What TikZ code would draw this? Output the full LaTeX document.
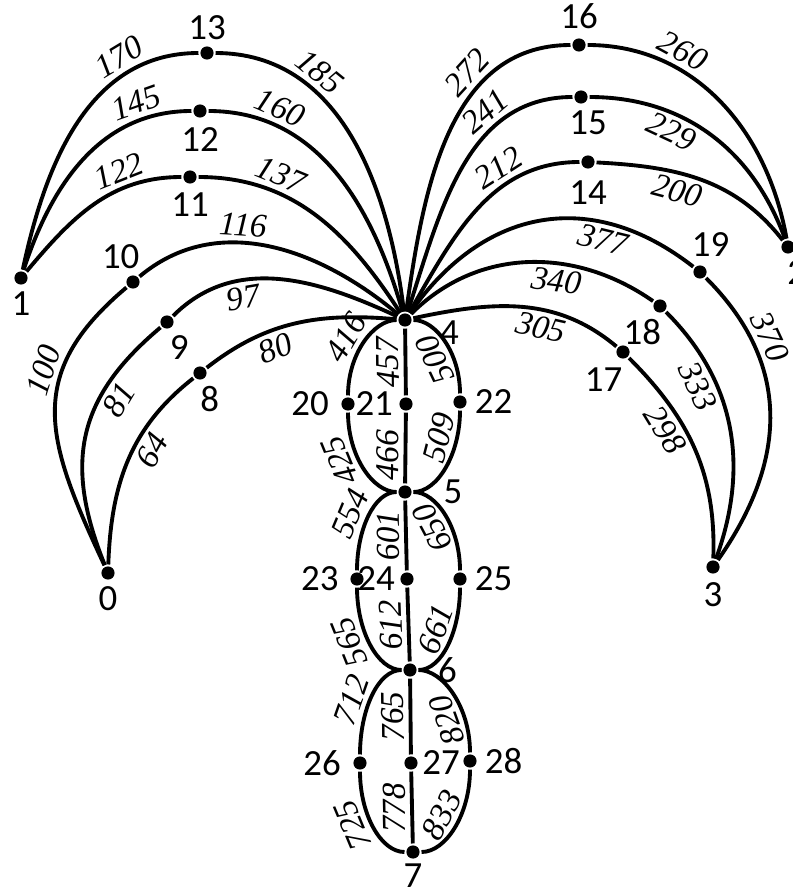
\documentclass[tikz,border=0pt]{standalone}
\usepackage{fontspec}
\setmainfont{Carlito}
\newfontfamily\wtfont{Liberation Serif}
\usetikzlibrary{positioning}

\begin{document}
\begin{tikzpicture}[x=0.02cm, y=0.02cm, line width=2.2pt,
    vertex/.style={circle, fill=black, inner sep=0pt, minimum size=7.5pt},
    num/.style={inner sep=0pt, font=\fontsize{21}{22}\selectfont},
    wt/.style={sloped, inner sep=2.5pt, font=\wtfont\itshape\fontsize{19}{19}\selectfont},
    wtu/.style={wt, allow upside down},
    tipside/.style={out looseness=.65, in looseness=1.2},
    sidetip/.style={out looseness=1.2, in looseness=.65}]
    \useasboundingbox (0,0) rectangle (793,-891);

    % Outer vertices
    \node[vertex] (v0) at (108,-573) {};
    \node[vertex] (v1) at (21,-278) {};
    \node[vertex] (v2) at (788,-247) {};
    \node[vertex] (v3) at (713,-567) {};
    % Spine
    \node[vertex] (v4) at (405,-320) {};
    \node[vertex] (v5) at (405,-492) {};
    \node[vertex] (v6) at (410,-670) {};
    \node[vertex] (v7) at (413,-852) {};
    % Arc vertices
    \node[vertex] (v8) at (200,-373) {};
    \node[vertex] (v9) at (167,-322) {};
    \node[vertex] (v10) at (133,-282) {};
    \node[vertex] (v11) at (190,-177) {};
    \node[vertex] (v12) at (200,-111) {};
    \node[vertex] (v13) at (207,-53) {};
    \node[vertex] (v14) at (588,-162) {};
    \node[vertex] (v15) at (581,-97) {};
    \node[vertex] (v16) at (579,-45) {};
    \node[vertex] (v17) at (623,-352) {};
    \node[vertex] (v18) at (660,-306) {};
    \node[vertex] (v19) at (700,-272) {};
    % Ellipse vertices
    \node[vertex] (v20) at (348,-404) {};
    \node[vertex] (v21) at (406,-404) {};
    \node[vertex] (v22) at (460,-402) {};
    \node[vertex] (v23) at (357,-579) {};
    \node[vertex] (v24) at (407,-579) {};
    \node[vertex] (v25) at (460,-579) {};
    \node[vertex] (v26) at (360,-763) {};
    \node[vertex] (v27) at (411,-763) {};
    \node[vertex] (v28) at (470,-761) {};

    % Vertex numbers
    \node[num, below=1.5pt of v0] (n0) {0};
    \node[num, below=2pt of v1] (n1) {1};
    \node[num, below=2pt of v2, xshift=5pt] (n2) {2};
    \node[num, below=3pt of v3] (n3) {3};
    \node[num, right=14pt of v4, yshift=-7pt] (n4) {4};
    \node[num, right=16pt of v5] (n5) {5};
    \node[num, right=10pt of v6] (n6) {6};
    \node[num, below=0.5pt of v7] (n7) {7};
    \node[num, below=1.5pt of v8, xshift=5.5pt] (n8) {8};
    \node[num, below=1.5pt of v9, xshift=7pt] (n9) {9};
    \node[num, above=1.5pt of v10, xshift=-7pt] (n10) {10};
    \node[num, below=3pt of v11] (n11) {11};
    \node[num, below=3.5pt of v12] (n12) {12};
    \node[num, above=1.5pt of v13] (n13) {13};
    \node[num, below=4.5pt of v14] (n14) {14};
    \node[num, below=2pt of v15, xshift=4pt] (n15) {15};
    \node[num, above=3pt of v16] (n16) {16};
    \node[num, below=3pt of v17, xshift=-11pt] (n17) {17};
    \node[num, below=1.5pt of v18, xshift=-10pt] (n18) {18};
    \node[num, above=3pt of v19, xshift=6pt] (n19) {19};
    \node[num, left=5pt of v20] (n20) {20};
    \node[num, left=1.5pt of v21] (n21) {21};
    \node[num, right=2.5pt of v22] (n22) {22};
    \node[num, left=4.5pt of v23] (n23) {23};
    \node[num, left=1pt of v24] (n24) {24};
    \node[num, right=2.5pt of v25] (n25) {25};
    \node[num, left=5pt of v26] (n26) {26};
    \node[num, right=0.5pt of v27] (n27) {27};
    \node[num, right=2.5pt of v28] (n28) {28};

    % Arcs 1 -- 4
    \draw (v1) to[out=78, in=180] node[wt, pos=.75, above] {170} (v13);
    \draw (v13) to[out=0, in=97] node[wt, pos=.3, above] {185} (v4);
    \draw (v1) to[out=72, in=180] node[wt, pos=.8, above] {145} (v12);
    \draw (v12) to[out=0, in=106] node[wt, pos=.22, above] {160} (v4);
    \draw (v1) to[out=50, in=180] node[wt, pos=.7, above] {122} (v11);
    \draw (v11) to[out=0, in=123] node[wt, pos=.3, above] {137} (v4);

    % Arcs 0 -- 4
    \draw (v0) to[out=115, in=220, looseness=1.25] node[wt, pos=.65, above] {100} (v10);
    \draw (v10) to[out=40, in=140] node[wt, pos=.4, above] {116} (v4);
    \draw (v0) to[out=112, in=220, looseness=1.15] node[wt, pos=.7, below] {81} (v9);
    \draw (v9) to[out=45, in=155] node[wt, pos=.33, below] {97} (v4);
    \draw (v0) to[out=88, in=218] node[wt, pos=.6, below] {64} (v8);
    \draw (v8) to[out=38, in=175] node[wt, pos=.35, below] {80} (v4);

    % Arcs 4 -- 2
    \draw (v4) to[out=82, in=180] node[wt, pos=.68, above] {272} (v16);
    \draw (v16) to[out=0, in=100] node[wt, pos=.3, above] {260} (v2);
    \draw (v4) to[out=72, in=180] node[wt, pos=.7, above] {241} (v15);
    \draw (v15) to[out=0, in=110] node[wt, pos=.35, below] {229} (v2);
    \draw (v4) to[out=60, in=180] node[wt, pos=.68, above] {212} (v14);
    \draw (v14) to[out=-3, in=128] node[wt, pos=.4, below] {200} (v2);

    % Arcs 4 -- 3
    \draw (v4) to[out=55, in=142, looseness=1.15] node[wt, pos=.72, below] {377} (v19);
    \draw (v19) to[out=-45, in=55, looseness=1.1] node[wt, pos=.25, above] {370} (v3);
    \draw (v4) to[out=45, in=145] node[wt, pos=.62, below] {340} (v18);
    \draw (v18) to[out=-45, in=70] node[wt, pos=.3, below] {333} (v3);
    \draw (v4) to[out=12, in=140] node[wt, pos=.62, below] {305} (v17);
    \draw (v17) to[out=-45, in=88] node[wt, pos=.35, below] {298} (v3);

    % Ellipse 4 -- 5
    \draw (v5) to[out=180, in=-90, tipside] node[wtu, pos=.65, above] {425} (v20);
    \draw (v20) to[out=90, in=180, sidetip] node[wtu, pos=.45, above] {416} (v4);
    \draw (v5) -- node[wtu, pos=.4, above] {466} (v21);
    \draw (v21) -- node[wtu, above] {457} (v4);
    \draw (v5) to[out=0, in=-90, tipside] node[wtu, pos=.75, above] {509} (v22);
    \draw (v22) to[out=90, in=0, sidetip] node[wtu, pos=.38, above] {500} (v4);

    % Ellipse 5 -- 6
    \draw (v6) to[out=180, in=-90, tipside] node[wtu, pos=.6, above] {565} (v23);
    \draw (v23) to[out=90, in=180, sidetip] node[wtu, pos=.45, above] {554} (v5);
    \draw (v6) -- node[wtu, above] {612} (v24);
    \draw (v24) -- node[wtu, above] {601} (v5);
    \draw (v6) to[out=0, in=-90, tipside] node[wtu, pos=.6, above] {661} (v25);
    \draw (v25) to[out=90, in=0, sidetip] node[wtu, pos=.45, above] {650} (v5);

    % Ellipse 6 -- 7
    \draw (v7) to[out=180, in=-90, tipside] node[wtu, pos=.6, above] {725} (v26);
    \draw (v26) to[out=90, in=180, sidetip] node[wtu, pos=.4, above] {712} (v6);
    \draw (v7) -- node[wtu, above] {778} (v27);
    \draw (v27) -- node[wtu, above] {765} (v6);
    \draw (v7) to[out=0, in=-90, tipside] node[wtu, pos=.55, above] {833} (v28);
    \draw (v28) to[out=90, in=0, sidetip] node[wtu, pos=.3, above] {820} (v6);
\end{tikzpicture}
\end{document}
